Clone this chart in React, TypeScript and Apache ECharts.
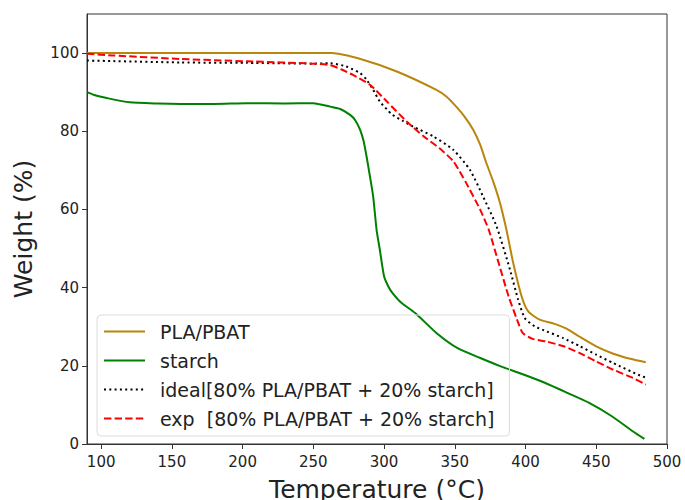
import React, { useEffect, useRef } from "react";
import * as echarts from "echarts";

const FONT = "DejaVu Sans";

const xTicks = [100, 150, 200, 250, 300, 350, 400, 450, 500];
const yTicks = [0, 20, 40, 60, 80, 100];

const plaTemp = [90, 150, 200, 263, 285, 309, 337, 344, 351, 357, 363, 368, 372, 377, 382, 386.5, 391.3, 397.2, 401.9, 410, 420, 429, 438, 450, 462, 474, 485];
const plaWeight = [100, 100, 100, 100, 98.3, 95.3, 90.6, 88.9, 86.3, 83.7, 80.4, 76.5, 72.2, 67.3, 61.6, 54.8, 46.3, 37.8, 33.9, 31.8, 30.8, 29.5, 27.5, 25.0, 23.1, 21.8, 20.9];

const starchTemp = [90, 95, 104, 120, 140, 156, 180, 203, 230, 250, 262, 269, 276, 279.5, 283, 285.5, 287.6, 290, 292.3, 294.7, 297, 300, 303, 306, 312, 322, 337, 352, 368, 383, 399, 414, 430, 445, 461, 476, 484];
const starchWeight = [90.0, 89.3, 88.5, 87.4, 87.1, 87.0, 87.0, 87.2, 87.1, 87.2, 86.3, 85.7, 84.2, 82.9, 80.4, 77.5, 73.6, 68.5, 63.3, 54.8, 49.7, 42.9, 40.3, 38.6, 36.2, 33.5, 28.4, 24.5, 22.0, 19.8, 17.7, 15.6, 13.0, 10.5, 7.1, 3.2, 1.3];

const idealTemp = [90, 156, 203, 250, 262, 273, 283, 287.6, 292.3, 297, 302, 306, 313, 320.5, 334.7, 348.8, 360.6, 370, 379.5, 389, 394.8, 399.5, 406.6, 414.9, 426.6, 438.4, 450.2, 462, 481, 485];
const idealWeight = [98.1, 97.6, 97.5, 97.3, 97.4, 96.6, 94.9, 93.2, 90.6, 87.6, 85.6, 84.2, 82.7, 81.2, 78.7, 75.3, 70.2, 63.3, 55.7, 44.6, 36.9, 32.2, 30.1, 28.8, 27.1, 25.0, 22.8, 20.7, 17.5, 17.0];

const expTemp = [90, 108, 156, 203, 250, 262, 270, 278, 290, 302, 316, 328, 339, 349, 358, 368, 374, 381, 388, 394, 398, 405, 415, 427, 438, 450, 462, 476, 485];
const expWeight = [99.8, 99.4, 98.5, 97.9, 97.3, 96.9, 95.8, 94.4, 91.9, 87.6, 82.5, 78.7, 75.7, 72.3, 66.8, 59.9, 54.8, 46.3, 37.8, 31.8, 28.4, 26.9, 26.2, 25.0, 23.3, 21.1, 19.0, 16.9, 15.2];

const seriesNames = [
  "PLA/PBAT",
  "starch",
  "ideal[80% PLA/PBAT + 20% starch]",
  "exp  [80% PLA/PBAT + 20% starch]",
];

const zip = (xs: number[], ys: number[]) => xs.map((x, i) => [x, ys[i]]);

export default function App() {
  const ref = useRef<HTMLDivElement>(null);
  useEffect(() => {
    if (!ref.current) return;
    const chart = echarts.init(ref.current, null, { renderer: "svg" });
    const axisColor = "#333";
    const labelColor = "#222";
    const mkSeries = (name: string, data: number[][], color: string, type: any) => ({
      name,
      type: "line",
      data,
      symbol: "none",
      showSymbol: false,
      smooth: 0.2,
      lineStyle: { color, width: 2, type, cap: "butt" },
      itemStyle: { color: "rgba(0,0,0,0)", borderWidth: 0 },
    });
    chart.setOption({
      animation: false,
      backgroundColor: "#fff",
      textStyle: { fontFamily: FONT },
      grid: {
        left: 87,
        right: 18,
        top: 14,
        bottom: 56,
        show: true,
        borderColor: axisColor,
        borderWidth: 1,
        outerBoundsMode: "none",
      },
      legend: {
        orient: "vertical",
        left: 97,
        top: 315,
        itemWidth: 41,
        itemHeight: 14,
        itemGap: 10,
        padding: [7, 15, 8, 6],
        backgroundColor: "rgba(255,255,255,0)",
        borderColor: "#dcdcdc",
        borderWidth: 1,
        borderRadius: 4,
        itemStyle: { opacity: 0 },
        textStyle: { fontSize: 19, fontFamily: FONT, color: labelColor, padding: [0, 0, 0, 10] },
        data: seriesNames,
      },
      xAxis: {
        type: "value",
        min: 90,
        max: 500,
        name: "Temperature (°C)",
        nameLocation: "middle",
        nameGap: 33,
        nameTextStyle: { fontSize: 25, fontFamily: FONT, color: labelColor },
        axisLine: { show: true, lineStyle: { color: axisColor, width: 1 } },
        axisTick: { show: true, inside: false, length: 5, customValues: xTicks, lineStyle: { color: axisColor } },
        axisLabel: { customValues: xTicks, margin: 10, fontSize: 15, fontFamily: FONT, color: labelColor },
        splitLine: { show: false },
      },
      yAxis: {
        type: "value",
        min: 0,
        max: 110,
        name: "Weight (%)",
        nameLocation: "middle",
        nameGap: 51,
        nameTextStyle: { fontSize: 25, fontFamily: FONT, color: labelColor },
        axisLine: { show: true, lineStyle: { color: axisColor, width: 1 } },
        axisTick: { show: true, inside: false, length: 5, customValues: yTicks, lineStyle: { color: axisColor } },
        axisLabel: { customValues: yTicks, margin: 8, fontSize: 15, fontFamily: FONT, color: labelColor },
        splitLine: { show: false },
      },
      series: [
        mkSeries(seriesNames[0], zip(plaTemp, plaWeight), "#b8860b", "solid"),
        mkSeries(seriesNames[1], zip(starchTemp, starchWeight), "#008000", "solid"),
        mkSeries(seriesNames[2], zip(idealTemp, idealWeight), "#000000", [2, 3.3]),
        mkSeries(seriesNames[3], zip(expTemp, expWeight), "#ff0000", [7.4, 3.2]),
      ],
    });
    return () => chart.dispose();
  }, []);
  return (
    <div
      ref={ref}
      style={{ position: "fixed", left: 0, top: 0, width: 685, height: 500 }}
    />
  );
}
